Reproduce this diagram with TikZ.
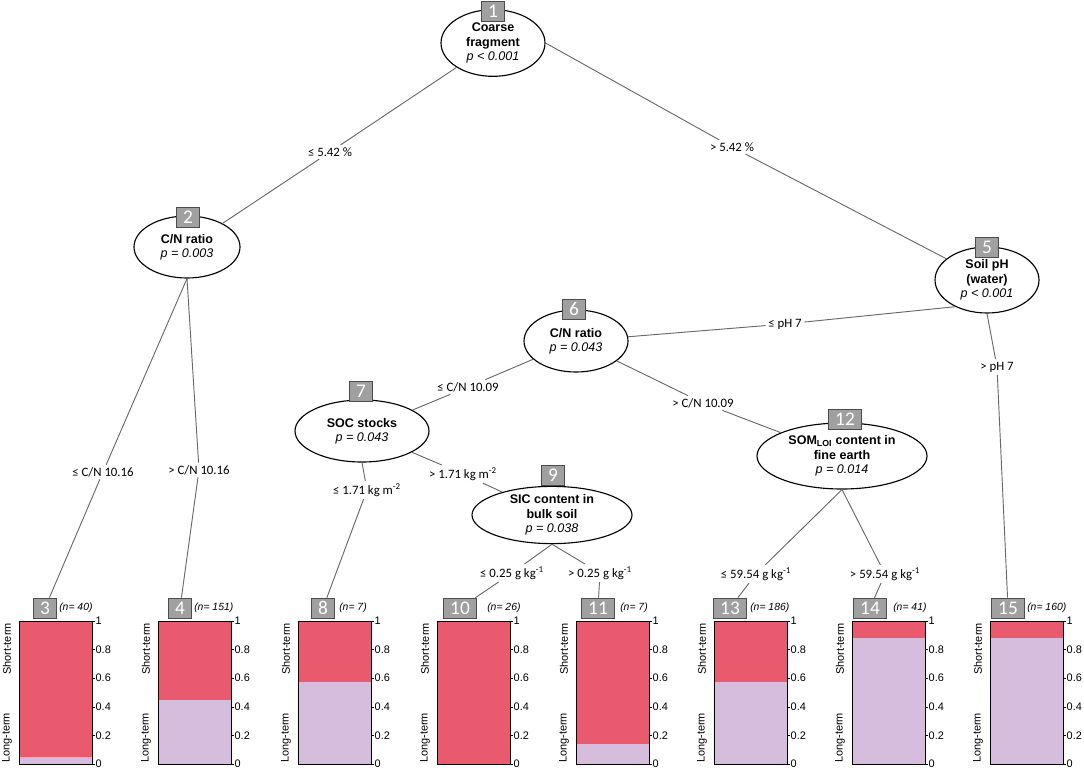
\documentclass[tikz,border=0pt]{standalone}
\usepackage{fontspec}
\setmainfont{Liberation Sans}
\newfontfamily\calib{Carlito}
\usetikzlibrary{shapes.geometric}

\definecolor{shortc}{RGB}{234,90,110}
\definecolor{longc}{RGB}{214,188,221}
\definecolor{boxgray}{RGB}{160,160,160}
\definecolor{edgegray}{RGB}{105,105,105}

\newcommand{\pval}[1]{{\normalfont\itshape #1}}

\tikzset{
  split/.style={draw, ellipse, fill=white, line width=0.85pt, inner sep=0pt, align=center,
    font=\bfseries\fontsize{9.4}{10.8}\selectfont},
  numbox/.style={draw=gray!60!black, fill=boxgray, text=white, line width=0.5pt,
    font=\calib\fontsize{14.5}{14.5}\selectfont, minimum width=16pt, minimum height=15pt,
    inner xsep=5pt, inner ysep=0pt},
  cond/.style={font=\calib\fontsize{9.6}{10}\selectfont, inner sep=1.8pt},
  edge/.style={draw=edgegray, line width=0.7pt},
  ncount/.style={anchor=west, inner sep=0pt, font=\itshape\fontsize{7.8}{8}\selectfont},
  ticklab/.style={anchor=west, inner sep=0.3pt, font=\fontsize{8.2}{9}\selectfont},
  termlab/.style={rotate=90, inner sep=0pt, font=\fontsize{8.2}{9}\selectfont}
}

\begin{document}
\begin{tikzpicture}[x=0.75pt,y=0.75pt,yscale=-1,xscale=1]
    \useasboundingbox (0,0) rectangle (1084,770);

    % Split nodes
    \node[split, minimum width=78pt, minimum height=50pt] (n1) at (493,43) {Coarse\\fragment\\\pval{p < 0.001}};
    \node[split, minimum width=79.5pt, minimum height=46.5pt] (n2) at (187,247) {C/N ratio\\\pval{p = 0.003}};
    \node[split, minimum width=78pt, minimum height=49.5pt] (n5) at (987,280) {Soil pH\\(water)\\\pval{p < 0.001}};
    \node[split, minimum width=78pt, minimum height=46.5pt] (n6) at (576,341) {C/N ratio\\\pval{p = 0.043}};
    \node[split, minimum width=100.5pt, minimum height=46.5pt] (n7) at (362,431) {SOC stocks\\\pval{p = 0.043}};
    \node[split, minimum width=120pt, minimum height=42pt] (n9) at (552,515) {SIC content in\\bulk soil\\\pval{p = 0.038}};
    \node[split, minimum width=127.5pt, minimum height=49.5pt] (n12) at (842,456) {SOM\textsubscript{LOI} content in\\fine earth\\\pval{p = 0.014}};

    % Terminal nodes
    \foreach \bx/\cx/\nx/\k/\n/\f in {19/45/59/3/40/0.05, 158/180/194/4/151/0.45,
        298/323/339/8/7/0.57, 437/460/487/10/26/0, 576/598/620/11/7/0.14,
        714/730/750/13/186/0.57, 852/870/893/14/41/0.88, 990/1008/1027/15/160/0.88}{
      \fill[shortc] (\bx,621) rectangle (\bx+73,764);
      \fill[longc] (\bx,764) rectangle (\bx+73,764-143*\f);
      \draw[line width=0.6pt] (\bx,621) rectangle (\bx+73,764);
      \foreach \t/\tl in {0/0,0.2/0.2,0.4/0.4,0.6/0.6,0.8/0.8,1/1}{
        \draw[line width=0.4pt] (\bx+73,764-143*\t) -- (\bx+76,764-143*\t) node[ticklab] {\tl};
      }
      \node[termlab] at (\bx-12,649) {Short-term};
      \node[termlab] at (\bx-12,738) {Long-term};
      \node[numbox] (t\k) at (\cx,608) {\k};
      \node[ncount] at (\nx,608) {(n= \n)};
    }

    % Text Node (split conditions)
    \node[cond] (l12) at (330,152) {≤ 5.42 \%};
    \node[cond] (l15) at (732,147) {> 5.42 \%};
    \node[cond] (l23) at (103,472) {≤ C/N 10.16};
    \node[cond] (l24) at (199,470) {> C/N 10.16};
    \node[cond] (l56) at (785,324) {≤ pH 7};
    \node[cond] (l515) at (997,367) {> pH 7};
    \node[cond] (l67) at (468,387) {≤ C/N 10.09};
    \node[cond] (l612) at (703,403) {> C/N 10.09};
    \node[cond] (l78) at (367,490) {≤ 1.71 kg m\textsuperscript{-2}};
    \node[cond] (l79) at (463,474) {> 1.71 kg m\textsuperscript{-2}};
    \node[cond] (l910) at (512,573) {≤ 0.25 g kg\textsuperscript{-1}};
    \node[cond] (l911) at (600,573) {> 0.25 g kg\textsuperscript{-1}};
    \node[cond] (l1213) at (756,574) {≤ 59.54 g kg\textsuperscript{-1}};
    \node[cond] (l1214) at (885,574) {> 59.54 g kg\textsuperscript{-1}};

    % Edges
    \draw[edge] (n1) -- (l12) -- (n2);
    \draw[edge] (n1.east) -- (l15) -- (n5);
    \draw[edge] (n2.south) -- (l23) -- (t3);
    \draw[edge] (n2.south) -- (l24) -- (t4);
    \draw[edge] (n5.220) -- (l56) -- (n6);
    \draw[edge] (n5.south) -- (l515) -- (t15);
    \draw[edge] (n6) -- (l67) -- (n7);
    \draw[edge] (n6) -- (l612) -- (n12);
    \draw[edge] (n7.south) -- (l78) -- (t8);
    \draw[edge] (n7) -- (l79) -- (n9);
    \draw[edge] (n9.south) -- (l910) -- (t10);
    \draw[edge] (n9.south) -- (l911) -- (t11);
    \draw[edge] (n12.south) -- (l1213) -- (t13);
    \draw[edge] (n12.south) -- (l1214) -- (t14);

    % Node numbers
    \node[numbox] (b1) at (493,11) {1};
    \node[numbox] (b2) at (188,217) {2};
    \node[numbox] (b5) at (987,247) {5};
    \node[numbox] (b6) at (574,309) {6};
    \node[numbox] (b7) at (361,391) {7};
    \node[numbox] (b9) at (553,475) {9};
    \node[numbox] (b12) at (845,419) {12};

\end{tikzpicture}
\end{document}
